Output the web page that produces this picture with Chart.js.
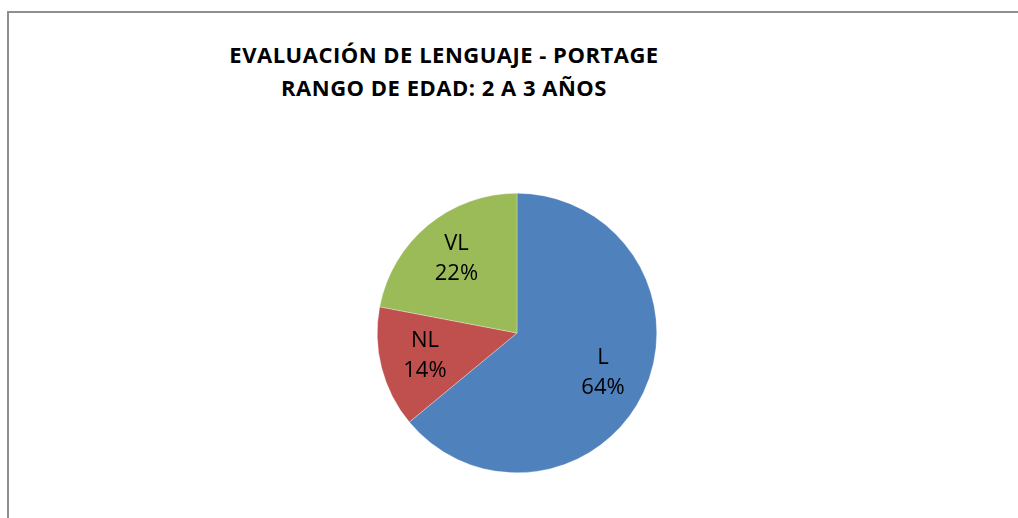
<!DOCTYPE html>
<html>
<head>
<meta charset="utf-8">
<script src="https://cdn.jsdelivr.net/npm/chart.js@4.4.1/dist/chart.umd.min.js"></script>
<style>
  html, body { margin: 0; padding: 0; background: #fff; }
  body { width: 1018px; height: 518px; position: relative; overflow: hidden; font-family: "Open Sans", sans-serif; }
  .frame { position: absolute; left: 7px; top: 11px; right: -4px; bottom: -4px; border-left: 2px solid #8e8e8e; border-top: 2px solid #8e8e8e; }
  .title { position: absolute; left: 194px; width: 500px; top: 38px; text-align: center; font-weight: bold; font-size: 22px; line-height: 33px; color: #000; letter-spacing: 0.5px; }
  #pie { position: absolute; left: 0; top: 0; }
</style>
</head>
<body>
<div class="frame"></div>
<div class="title">EVALUACIÓN DE LENGUAJE - PORTAGE<br>RANGO DE EDAD: 2 A 3 AÑOS</div>
<canvas id="pie" width="1018" height="518"></canvas>
<script>
/* Pie: evaluación de lenguaje Portage, 2 a 3 años */
const categorias = ['L', 'NL', 'VL'];
const porcentajes = [64, 14, 22];
const colores = ['#4f81bd', '#c0504d', '#9bbb59'];

// etiquetas dentro de cada porción: categoría + porcentaje
const sliceLabels = {
  id: 'sliceLabels',
  afterDatasetsDraw(chart) {
    const { ctx } = chart;
    const meta = chart.getDatasetMeta(0);
    ctx.save();
    ctx.font = '22px "Open Sans", sans-serif';
    ctx.fillStyle = '#000';
    ctx.textAlign = 'center';
    ctx.textBaseline = 'middle';
    meta.data.forEach((arc, i) => {
      const { x, y, startAngle, endAngle, outerRadius } = arc.getProps(['x','y','startAngle','endAngle','outerRadius'], true);
      const mid = (startAngle + endAngle) / 2;
      const r = outerRadius * 0.68;
      const cx = x + Math.cos(mid) * r;
      const cy = y + Math.sin(mid) * r;
      ctx.fillText(categorias[i], cx, cy - 16);
      ctx.fillText(porcentajes[i] + '%', cx, cy + 14);
    });
    ctx.restore();
  }
};

new Chart(document.getElementById('pie'), {
  type: 'pie',
  data: { labels: categorias, datasets: [{
    data: porcentajes,
    backgroundColor: colores,
    borderColor: 'rgba(255,255,255,0.6)',
    borderWidth: 0.5
  }] },
  options: {
    responsive: false,
    animation: false,
    layout: { padding: { left: 377, right: 361, top: 193, bottom: 45 } },
    plugins: { legend: { display: false }, tooltip: { enabled: false }, title: { display: false } }
  },
  plugins: [sliceLabels]
});
</script>
</body>
</html>
